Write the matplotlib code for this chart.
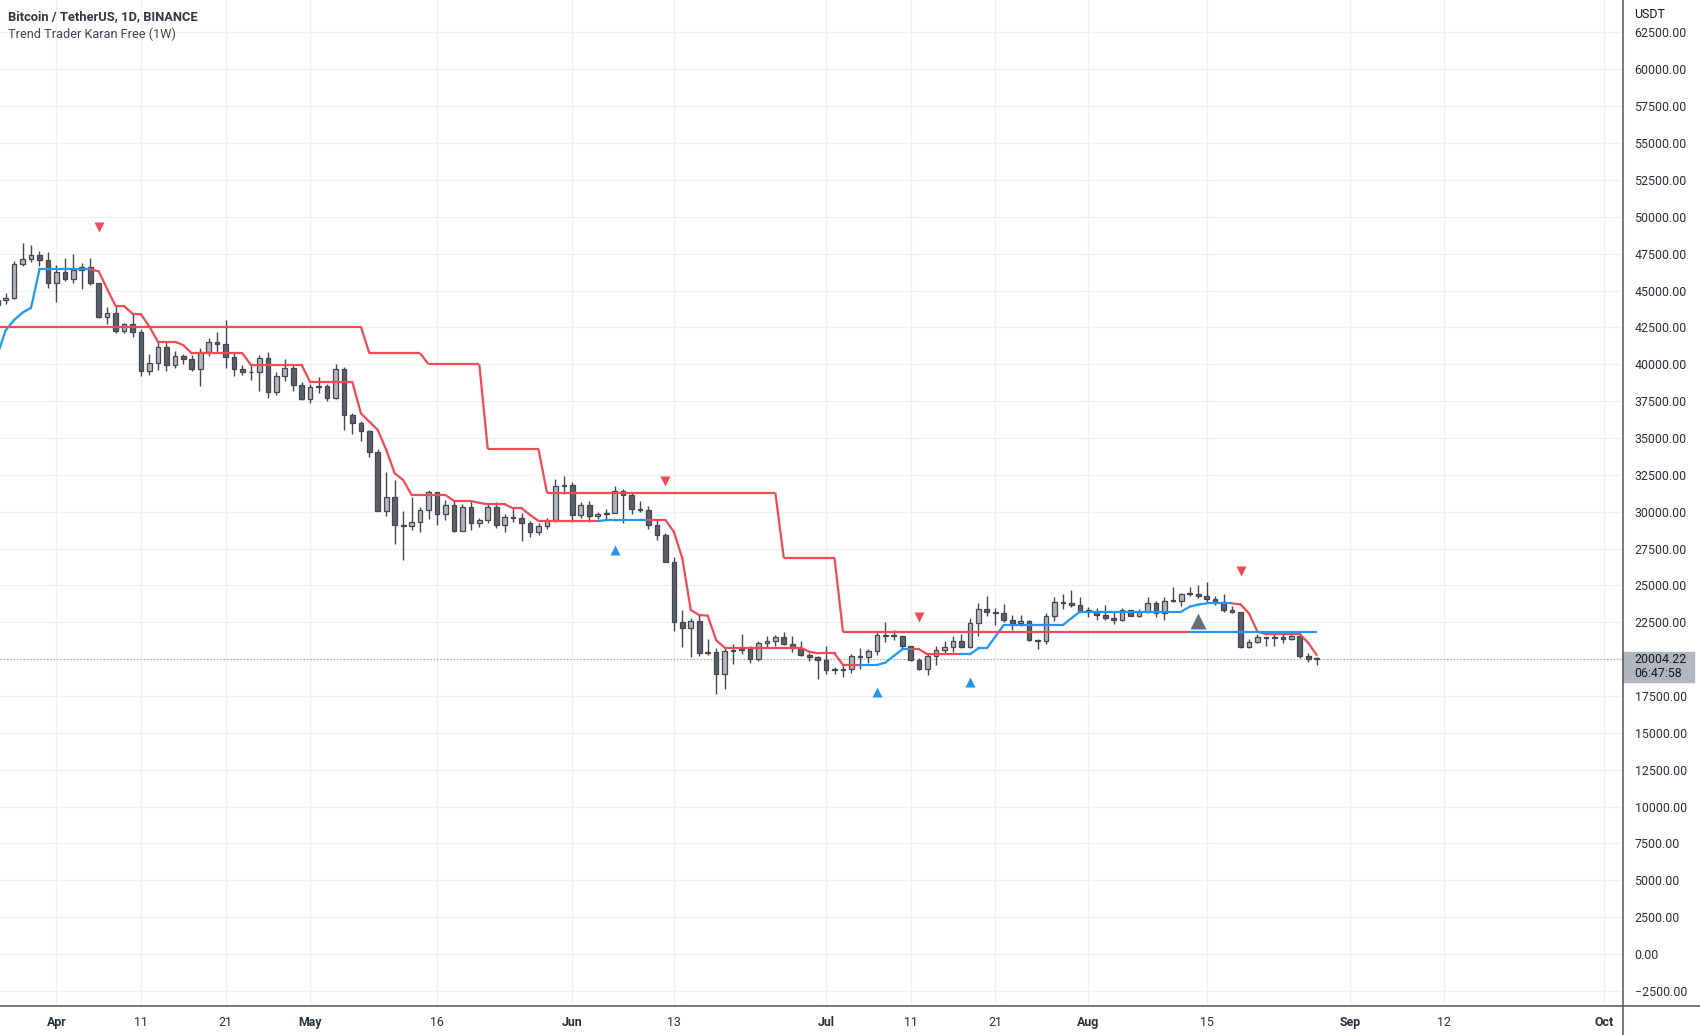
import matplotlib
matplotlib.use('Agg')

import numpy as np
import pandas as pd
import matplotlib.pyplot as plt
import matplotlib.dates as mdates
import matplotlib.transforms as mtransforms
from matplotlib.collections import LineCollection
from matplotlib.lines import Line2D
from matplotlib.patches import Rectangle

plt.rcParams['font.family'] = ['Roboto', 'DejaVu Sans']

# daily BTC/USDT candles, 2022-03-25 .. 2022-08-28
start = '2022-03-25'
opens = [43990, 44331, 44511, 46828, 47122, 47434, 47067,
         45510, 46283, 45811, 46407, 46580, 45497, 43170, 43444, 42252, 42753,
         42158, 39530, 40075, 41147, 39942, 40551, 40378, 39679, 40801, 41493,
         41358, 40480, 39709, 39441, 39450, 40426, 38112, 39236, 39742, 38597,
         37630, 38468, 38525, 37728, 39690, 36552, 36013, 35472, 34039, 30076,
         31017, 29103, 29030, 29287, 30087, 31328, 29874, 30445, 28715, 30319,
         29201, 29445, 30294, 29110, 29655, 29543, 29201, 28630, 29032, 29468, 31734,
         31801, 29805, 30452, 29700, 29865, 29920, 31374, 31125, 30205, 30110,
         29092, 28425, 26575, 22488, 22136, 22583, 20401, 20471, 19014, 20553,
         20600, 20711, 19988, 21110, 21238, 21491, 21038, 20743, 20281, 20123,
         19942, 19280, 19253, 19316, 20237, 20176, 20565, 21625, 21595, 21592,
         20862, 19964, 19331, 20235, 20589, 20830, 21196, 20799, 22433, 23397,
         23223, 23152, 22685, 22451, 22580, 21311, 21255, 22952, 23843, 23774, 23644,
         23293, 23268, 22988, 22818, 22623, 23312, 22954, 23174, 23810, 23150,
         23954, 23934, 24404, 24441, 24305, 24095, 23855, 23343, 23191, 20834,
         21140, 21516, 21400, 21529, 21368, 21559, 20241, 20038]
highs = [45094, 44817, 46999, 48189, 48096, 47700, 47600,
         46720, 47213, 47444, 46890, 47200, 45507, 43900, 43970, 42800, 43410,
         42414, 40700, 41561, 41500, 40870, 40709, 40595, 41116, 41760, 42199,
         42976, 40795, 39980, 39940, 40616, 40797, 39474, 40372, 39925, 38795,
         38675, 39167, 38651, 40023, 39845, 36675, 36146, 35514, 34243, 32659,
         32162, 30033, 30976, 30343, 31460, 31328, 30788, 30700, 30545, 30777,
         29588, 30487, 30670, 29834, 30223, 29880, 29400, 29250, 29559, 32222, 32399,
         31982, 30690, 30699, 29955, 30189, 31765, 31555, 31332, 30700, 30384,
         29440, 28544, 26895, 23363, 22800, 22981, 21365, 20777, 20815, 20998,
         21723, 20872, 21233, 21558, 21614, 21868, 21539, 21200, 20432, 20179,
         20876, 19436, 19647, 20354, 20750, 20675, 21838, 22527, 21980, 21591,
         20868, 20059, 20366, 20900, 21200, 21588, 21684, 22777, 23800, 24276,
         23442, 23756, 22998, 23014, 22666, 21347, 23112, 24199, 24442, 24668, 24194,
         23509, 23463, 23647, 23223, 23472, 23354, 23402, 24245, 23933, 24226,
         24918, 24456, 24888, 25047, 25211, 24247, 24446, 23600, 23208, 21382,
         21692, 21522, 21684, 21819, 21819, 21886, 20402, 20150]
lows = [43579, 44072, 44421, 46663, 46950, 46670, 45200,
        44200, 45620, 45530, 45118, 45353, 43121, 42727, 42107, 42125, 41868,
        39200, 39254, 39588, 39551, 39766, 40020, 39546, 38536, 40571, 40820,
        39751, 39177, 39285, 38929, 38200, 37702, 37881, 38881, 38175, 37578,
        37386, 38052, 37517, 37670, 35571, 35258, 34785, 33713, 30033, 29730,
        27785, 26700, 28751, 28630, 29480, 29087, 29450, 28654, 28666, 28730,
        28947, 29255, 28866, 28600, 29294, 28019, 28282, 28450, 28839, 29300, 31200,
        29301, 29594, 29282, 29485, 29531, 29880, 29219, 29851, 29945, 28851,
        28100, 26560, 21925, 20846, 20111, 20233, 20246, 17622, 17960, 19637,
        20348, 19770, 19890, 20740, 20906, 20964, 20500, 20188, 19845, 18626,
        18975, 19000, 18781, 19055, 19304, 19761, 20251, 21189, 21322, 20655,
        19875, 19240, 18910, 19616, 20383, 20478, 20750, 20762, 21579, 22906,
        22341, 22500, 21950, 22257, 21250, 20706, 21042, 22582, 23414, 23502, 23227,
        22850, 22664, 22681, 22400, 22586, 22909, 22844, 23154, 22865, 22664,
        23852, 23583, 24291, 24144, 23773, 23671, 23180, 23111, 20783, 20761,
        21105, 20890, 20890, 21117, 21310, 20107, 19800, 19600]
closes = opens[1:] + [20004.22]

# indicator: daily trend line and its direction runs (1 up / -1 down)
trend_line = [40600, 42300, 43000, 43500, 43830, 46440, 46440,
              46440, 46440, 46440, 46440, 46440, 46300, 45100, 43950, 43950, 43420,
              43385, 42550, 41530, 41530, 41530, 41300, 40740, 40740, 40740, 40740,
              40740, 40740, 40740, 39950, 39950, 39950, 39950, 39950, 39950, 39950,
              38780, 38780, 38780, 38780, 38780, 38780, 36670, 36100, 35540, 34190,
              32600, 32150, 31130, 31130, 31130, 31130, 31130, 30725, 30725, 30725,
              30600, 30500, 30500, 30500, 30230, 30230, 29780, 29370, 29370, 29370,
              29370, 29370, 29370, 29370, 29370, 29420, 29420, 29435, 29435, 29435,
              29435, 29435, 29435, 28640, 26840, 23330, 22990, 22945, 21295, 20775,
              20775, 20775, 20775, 20775, 20775, 20775, 20775, 20775, 20775, 20500,
              20390, 20390, 20390, 19600, 19600, 19600, 19600, 19600, 19760, 20210,
              20660, 20660, 20660, 20320, 20320, 20320, 20320, 20320, 20320, 20730,
              20730, 21520, 22310, 22310, 22310, 22310, 22310, 22310, 22310, 22310,
              22770, 23220, 23220, 23220, 23220, 23220, 23220, 23220, 23220, 23220,
              23220, 23220, 23220, 23220, 23560, 23700, 23780, 23780, 23780, 23780,
              23710, 23100, 21860, 21700, 21700, 21700, 21700, 21700, 21100, 20280]
trend_dir = [1] * 12 + [-1] * 60 + [1] * 6 + [-1] * 25 + [1] * 6 + [-1] * 6 + [1] * 32 + [-1] * 10

# weekly (1W) levels, changing on Sundays
weekly_levels = [42550, 40740, 40000, 34230, 31290, 26836, 21830]
weekly_days = [44, 7, 7, 7, 28, 7, 57]
weekly_dir = [-1] * 142 + [1] * 15

sell_dates = ['2022-04-06', '2022-06-12', '2022-07-12', '2022-08-19']
sell_prices = [49290, 32080, 22880, 25980]
buy_dates = ['2022-06-06', '2022-07-07', '2022-07-18']
buy_prices = [27400, 17790, 18450]
big_buy_date = ['2022-08-14']
big_buy_price = [22590]

tick_dates = ['2022-04-01', '2022-04-11', '2022-04-21', '2022-05-01', '2022-05-16',
              '2022-06-01', '2022-06-13', '2022-07-01', '2022-07-11', '2022-07-21',
              '2022-08-01', '2022-08-15', '2022-09-01', '2022-09-12', '2022-10-01']
tick_labels = ['Apr', '11', '21', 'May', '16', 'Jun', '13', 'Jul', '11', '21',
               'Aug', '15', 'Sep', '12', 'Oct']
last_price = 20004.22
countdown = '06:47:58'

RED = '#f04a55'
BLUE = '#2196f3'
UP = '#b2b5be'
DOWN = '#5d606b'
EDGE = '#434651'
TXT = '#131722'

fig = plt.figure(figsize=(17, 10.35), dpi=100)
ax = fig.add_axes([0, 29 / 1035, 1622 / 1700, 1006 / 1035])

dates = pd.date_range(start, periods=len(opens), freq='D')
x = mdates.date2num(dates)
o = np.array(opens, float)
h = np.array(highs, float)
l = np.array(lows, float)
c = np.array(closes, float)

# candles
ax.vlines(x, l, h, color=EDGE, lw=1, zorder=3)
body_lo = np.minimum(o, c)
body_h = np.maximum(np.abs(c - o), 60)
cols = np.where(c >= o, UP, DOWN)
ax.bar(x, body_h, bottom=body_lo, width=0.55, color=cols, edgecolor=EDGE,
       linewidth=0.9, zorder=4)

# daily trend line
tl = np.array(trend_line, float)
pts = np.column_stack([x, tl])
segs = np.stack([pts[:-1], pts[1:]], axis=1)
seg_cols = [BLUE if d > 0 else RED for d in trend_dir[1:]]
ax.add_collection(LineCollection(segs, colors=seg_cols, linewidths=1.6, zorder=5,
                                 capstyle='round', joinstyle='round'))

# weekly line
wl = np.repeat(weekly_levels, weekly_days).astype(float)
wpts = np.column_stack([x, wl])
wsegs = np.stack([wpts[:-1], wpts[1:]], axis=1)
wcols = [BLUE if d > 0 else RED for d in weekly_dir[1:]]
ax.add_collection(LineCollection(wsegs, colors=wcols, linewidths=1.6, zorder=5))

# signals
ax.plot(mdates.date2num(pd.to_datetime(sell_dates)), sell_prices, ls='none',
        marker='v', ms=7, color=RED, mec='none', zorder=6)
ax.plot(mdates.date2num(pd.to_datetime(buy_dates)), buy_prices, ls='none',
        marker='^', ms=7, color=BLUE, mec='none', zorder=6)
ax.plot(mdates.date2num(pd.to_datetime(big_buy_date)), big_buy_price, ls='none',
        marker='^', ms=12, color='#6a6d78', mec='none', zorder=6)

ax.axhline(last_price, color='#9598a1', lw=0.8, ls=(0, (1, 2)), zorder=2)

x_apr = mdates.date2num(pd.Timestamp('2022-04-01'))
ax.set_xlim(x_apr - 6.67, x_apr + 185.1)
ax.set_ylim(-3527, 64704)

yt = np.arange(-2500, 62501, 2500)
ax.yaxis.tick_right()
ax.set_yticks(yt)
ax.set_yticklabels([('%.2f' % v).replace('-', '\u2212') for v in yt])
ax.set_xticks(mdates.date2num(pd.to_datetime(tick_dates)))
ax.set_xticklabels(tick_labels)
ax.tick_params(axis='y', length=0, pad=9, labelsize=8.9, labelcolor='#2a2e39')
ax.tick_params(axis='x', length=0, pad=7, labelsize=8.9, labelcolor='#2a2e39')
for t in ax.get_xticklabels():
    if not t.get_text().isdigit():
        t.set_fontweight('bold')

ax.grid(True, color='#eef0f3', lw=1)
ax.set_axisbelow(True)
for s in ax.spines.values():
    s.set_visible(False)

# frame lines of the price and time scales
fig.add_artist(Line2D([1622.5 / 1700, 1622.5 / 1700], [0, 1], color='#50535e', lw=1.1))
fig.add_artist(Line2D([0, 1], [29 / 1035, 29 / 1035], color='#50535e', lw=1.1))

# last price label
tr = mtransforms.blended_transform_factory(ax.transAxes, ax.transData)
ax.add_patch(Rectangle((1.0006, last_price - 1560), 0.0438, 2035, transform=tr,
                       color='#b2b5be', clip_on=False, zorder=7))
ax.text(1.0074, last_price, '%.2f' % last_price, transform=tr, va='center',
        ha='left', fontsize=8.9, color=TXT, zorder=8, clip_on=False)
ax.text(1.0074, last_price - 950, countdown, transform=tr, va='center',
        ha='left', fontsize=8.9, color=TXT, zorder=8, clip_on=False)

fig.text(1634 / 1700, 1 - 14 / 1035, 'USDT', fontsize=8.9, color=TXT, va='center')
fig.text(8 / 1700, 1 - 17 / 1035, 'Bitcoin / TetherUS, 1D, BINANCE', fontsize=9.3,
         fontweight='bold', color='#333640', va='center')
fig.text(8 / 1700, 1 - 34 / 1035, 'Trend Trader Karan Free (1W)', fontsize=9.2,
         color='#434651', va='center')

fig.savefig('out.png', dpi=100)
